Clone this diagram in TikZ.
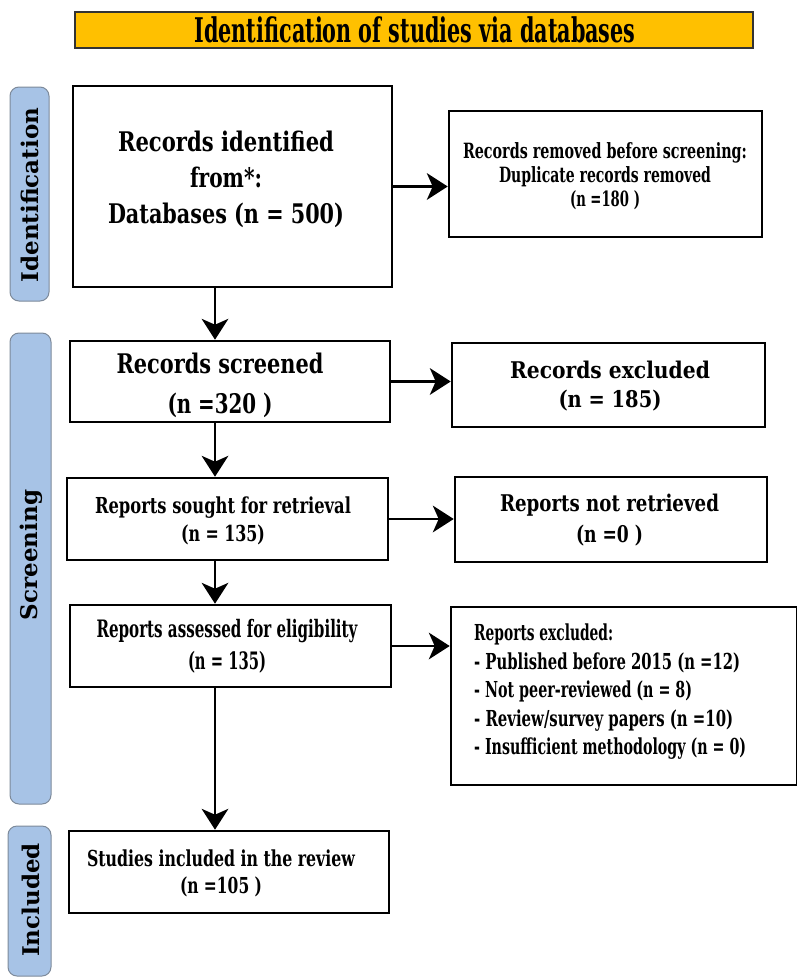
\documentclass[tikz,border=0pt]{standalone}
\usepackage{fontspec}
\setmainfont{DejaVu Serif}
\usepackage{graphicx}
\usetikzlibrary{arrows.meta}

% colours
\definecolor{titlefill}{HTML}{FFC000}
\definecolor{barfill}{HTML}{A7C3E6}
\definecolor{barline}{HTML}{7D8A9A}

% set one line of text squeezed or stretched to a given width (in pt)
\newlength\flw
\newcommand\fl[2]{\settowidth{\flw}{#2}\pgfmathsetmacro\flr{#1/\flw}\scalebox{\flr}[1]{#2}}

% filled notched arrow heads, tip at the given point
\newcommand\headdown[1]{\fill #1 -- ++(-13.5,-21) -- ++(13.5,6) -- ++(13.5,-6) -- cycle;}
\newcommand\headright[1]{\fill #1 -- ++(-21,-13.5) -- ++(6,13.5) -- ++(-6,13.5) -- cycle;}

\tikzset{
  box/.style={draw=black, line width=2.6pt, fill=white, inner sep=0pt},
  txt/.style={align=center, inner sep=0pt},
  arr/.style={line width=2.3pt},
  bar/.style={draw=barline, line width=1pt, fill=barfill, rounded corners=9pt, inner sep=0pt},
  barlabel/.style={rotate=90, inner sep=0pt, font=\fontsize{23}{27}\selectfont\bfseries},
  titlebox/.style={draw=black!80, line width=1.6pt, fill=titlefill, inner sep=0pt},
}

\begin{document}
\begin{tikzpicture}[x=1pt, y=-1pt]
\useasboundingbox (0,0) rectangle (797,977);

% heading
\node[titlebox, minimum width=678pt, minimum height=36pt] (head) at (414,30) {};
\node[txt, font=\fontsize{34}{36}\selectfont\bfseries] (headtxt) at (415,29.5)
  {\fl{441}{Identification of studies via databases}};

% phase bars on the left
\node[bar, minimum width=39pt, minimum height=214pt] (sb1) at (29.5,194) {};
\node[barlabel] (sb1txt) at (30,195) {Identification};
\node[bar, minimum width=41pt, minimum height=471pt] (sb2) at (30.5,568.5) {};
\node[barlabel] (sb2txt) at (31,555) {Screening};
\node[bar, minimum width=43pt, minimum height=150pt] (sb3) at (29.5,901) {};
\node[barlabel] (sb3txt) at (31,900) {Included};

% boxes
\node[box, minimum width=319pt, minimum height=201pt] (b1) at (232.5,186.5) {};
\node[box, minimum width=313pt, minimum height=126pt] (b2) at (605.5,174) {};
\node[box, minimum width=320pt, minimum height=81pt]  (b3) at (230,381.5) {};
\node[box, minimum width=313pt, minimum height=84pt]  (b4) at (608.5,385) {};
\node[box, minimum width=321pt, minimum height=82pt]  (b5) at (227.5,519) {};
\node[box, minimum width=312pt, minimum height=85pt]  (b6) at (611,519.5) {};
\node[box, minimum width=321pt, minimum height=82pt]  (b7) at (230.5,646) {};
\node[box, minimum width=346pt, minimum height=178pt] (b8) at (624,696) {};
\node[box, minimum width=320pt, minimum height=82pt]  (b9) at (229,872) {};

% box texts
\node[txt, font=\fontsize{27}{36}\selectfont\bfseries] (t1) at (226,179)
  {\fl{216}{Records identified}\\ \fl{72}{from*:}\\ \fl{236}{Databases (n = 500)}};
\node[txt, font=\fontsize{21}{24}\selectfont\bfseries] (t2) at (605,176)
  {\fl{284}{Records removed before screening:}\\ \fl{212}{Duplicate records removed}\\ \fl{70}{(n =180 )}};
\node[txt, font=\fontsize{27}{40}\selectfont\bfseries] (t3) at (220,385)
  {\fl{207}{Records screened}\\ \fl{105}{(n =320 )}};
\node[txt, font=\fontsize{23}{29}\selectfont\bfseries] (t4) at (610,386)
  {\fl{200}{Records excluded}\\ \fl{103}{(n = 185)}};
\node[txt, font=\fontsize{22}{28}\selectfont\bfseries] (t5) at (223,521)
  {\fl{256}{Reports sought for retrieval}\\ \fl{84}{(n = 135)}};
\node[txt, font=\fontsize{23}{31}\selectfont\bfseries] (t6) at (609.5,520)
  {\fl{219}{Reports not retrieved}\\ \fl{67}{(n =0 )}};
\node[txt, font=\fontsize{24}{32}\selectfont\bfseries] (t7) at (227,646)
  {\fl{261}{Reports assessed for eligibility}\\ \fl{78}{(n = 135)}};
\node[txt, align=left, anchor=west, font=\fontsize{22}{28.5}\selectfont\bfseries] (t8) at (474,692)
  {\fl{139}{Reports excluded:}\\
   \fl{266}{- Published before 2015 (n =12)}\\
   \fl{218}{- Not peer-reviewed (n = 8)}\\
   \fl{259}{- Review/survey papers (n =10)}\\
   \fl{272}{- Insufficient methodology (n = 0)}};
\node[txt, font=\fontsize{22}{27}\selectfont\bfseries] (t9) at (221,873.5)
  {\fl{268}{Studies included in the review}\\ \fl{82}{(n =105 )}};

% main flow column
\coordinate (col) at (215,0);

% connectors down the main column
\draw[arr] (b1.south -| col) -- ([yshift=10pt]b3.north -| col);
\headdown{(b3.north -| col)}
\draw[arr] (b3.south -| col) -- ([yshift=10pt]b5.north -| col);
\headdown{(b5.north -| col)}
\draw[arr] (b5.south -| col) -- ([yshift=10pt]b7.north -| col);
\headdown{(b7.north -| col)}
\draw[arr] (b7.south -| col) -- ([yshift=10pt]b9.north -| col);
\headdown{(b9.north -| col)}

% connectors to the side boxes
\draw[arr] (b1.east) -- ([xshift=-10pt]b1.east -| b2.west);
\headright{(b1.east -| b2.west)}
\draw[arr] (b3.east) -- ([xshift=-10pt]b3.east -| b4.west);
\headright{(b3.east -| b4.west)}
\draw[arr] (b5.east) -- ([xshift=-10pt]b5.east -| b6.west);
\headright{(b5.east -| b6.west)}
\draw[arr] (b7.east) -- ([xshift=-10pt]b7.east -| b8.west);
\headright{(b7.east -| b8.west)}
\end{tikzpicture}
\end{document}
